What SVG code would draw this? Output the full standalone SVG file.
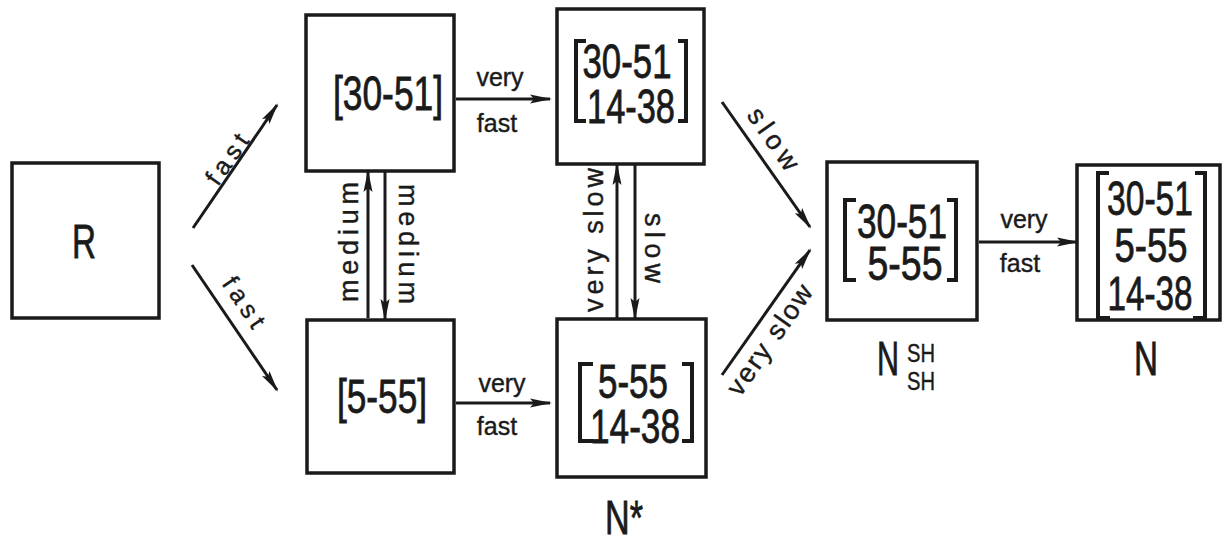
<svg xmlns="http://www.w3.org/2000/svg" width="1223" height="544" viewBox="0 0 1223 544">
<style>
.box{fill:none;stroke:#1a1a1a;stroke-width:3.5}
.brk{fill:none;stroke:#1a1a1a;stroke-width:4}
.big{font-family:"Liberation Sans",Arial,sans-serif;font-size:48px;fill:#1a1a1a;stroke:#1a1a1a;stroke-width:0.8;text-anchor:middle}
.sm{font-family:"Liberation Sans",Arial,sans-serif;font-size:25px;fill:#1a1a1a;stroke:#1a1a1a;stroke-width:0.4;text-anchor:middle}
.rot{font-size:27px}
.con line{stroke:#1a1a1a;stroke-width:3;marker-end:url(#ah)}
</style>
<defs>
<marker id="ah" markerUnits="userSpaceOnUse" markerWidth="22" markerHeight="12" refX="20" refY="6" orient="auto">
<path d="M0,1.5 L22,6 L0,10.5 L4,6 z" fill="#1a1a1a"/>
</marker>
</defs>
<rect width="1223" height="544" fill="#fff"/>

<g id="connectors" class="con">
<line x1="193" y1="228" x2="277" y2="105"/>
<line x1="192" y1="265" x2="277" y2="390"/>
<line x1="456" y1="99" x2="550" y2="99"/>
<line x1="456" y1="403" x2="550" y2="403"/>
<line x1="368" y1="318" x2="368" y2="172"/>
<line x1="385" y1="172" x2="385" y2="319"/>
<line x1="617" y1="318" x2="617" y2="165"/>
<line x1="635" y1="165" x2="635" y2="318"/>
<line x1="722" y1="102" x2="810" y2="227"/>
<line x1="722" y1="375" x2="810" y2="250"/>
<line x1="979" y1="242" x2="1077" y2="242"/>
</g>

<g id="connector-labels">
<text class="sm" transform="translate(234,164) rotate(-55)" textLength="56">fast</text>
<text class="sm" transform="translate(237,307) rotate(56)" textLength="56">fast</text>
<text class="sm" x="500" y="86">very</text>
<text class="sm" x="497" y="132">fast</text>
<text class="sm" x="502" y="392">very</text>
<text class="sm" x="497" y="435">fast</text>
<text class="sm rot" transform="translate(358,242) rotate(-90)" textLength="120">medium</text>
<text class="sm rot" transform="translate(399,244) rotate(90)" textLength="120">medium</text>
<text class="sm rot" transform="translate(603,240) rotate(-90)" textLength="144">very slow</text>
<text class="sm rot" transform="translate(645,248) rotate(90)" textLength="70">slow</text>
<text class="sm rot" transform="translate(766,144) rotate(55)" textLength="70">slow</text>
<text class="sm rot" transform="translate(777,345) rotate(-55)" textLength="129">very slow</text>
<text class="sm" x="1024" y="228">very</text>
<text class="sm" x="1020" y="272">fast</text>
</g>

<g id="node-R">
<rect class="box" x="12" y="163" width="147" height="155"/>
<text class="big" x="84" y="258" textLength="24" lengthAdjust="spacingAndGlyphs">R</text>
</g>

<g id="node-30-51">
<rect class="box" x="306" y="15" width="148" height="156"/>
<text class="big" x="388" y="110" textLength="110" lengthAdjust="spacingAndGlyphs">[30-51]</text>
</g>

<g id="node-5-55">
<rect class="box" x="307" y="320" width="147" height="153"/>
<text class="big" x="382" y="413" textLength="90" lengthAdjust="spacingAndGlyphs">[5-55]</text>
</g>

<g id="node-30-51-14-38">
<rect class="box" x="557" y="9" width="147" height="155"/>
<path class="brk" d="M586,41 H576 V121 H586"/>
<path class="brk" d="M678,41 H686 V121 H678"/>
<text class="big" x="627" y="78" textLength="89" lengthAdjust="spacingAndGlyphs">30-51</text>
<text class="big" x="631" y="123" textLength="88" lengthAdjust="spacingAndGlyphs">14-38</text>
</g>

<g id="node-5-55-14-38">
<rect class="box" x="557" y="319" width="149" height="158"/>
<path class="brk" d="M593,364 H580 V441 H593"/>
<path class="brk" d="M682,364 H692 V441 H682"/>
<text class="big" x="633" y="398" textLength="70" lengthAdjust="spacingAndGlyphs">5-55</text>
<text class="big" x="635" y="443" textLength="90" lengthAdjust="spacingAndGlyphs">14-38</text>
<text class="big" x="624" y="534" font-size="44" textLength="38" lengthAdjust="spacingAndGlyphs">N*</text>
</g>

<g id="node-NSH">
<rect class="box" x="827" y="162" width="150" height="158"/>
<path class="brk" d="M856,200 H845 V280 H856"/>
<path class="brk" d="M947,200 H956 V280 H947"/>
<text class="big" x="902" y="238" textLength="90" lengthAdjust="spacingAndGlyphs">30-51</text>
<text class="big" x="905" y="280" textLength="75" lengthAdjust="spacingAndGlyphs">5-55</text>
<text class="big" x="888" y="375" textLength="22" lengthAdjust="spacingAndGlyphs">N</text>
<text class="sm" x="921" y="362" textLength="28" lengthAdjust="spacingAndGlyphs">SH</text>
<text class="sm" x="921" y="390" textLength="28" lengthAdjust="spacingAndGlyphs">SH</text>
</g>

<g id="node-N">
<rect class="box" x="1077" y="165" width="143" height="155"/>
<path class="brk" d="M1109,173 H1098 V318 H1110"/>
<path class="brk" d="M1195,173 H1205 V318 H1193"/>
<text class="big" x="1150" y="215" textLength="86" lengthAdjust="spacingAndGlyphs">30-51</text>
<text class="big" x="1151" y="262" textLength="73" lengthAdjust="spacingAndGlyphs">5-55</text>
<text class="big" x="1150" y="310" textLength="85" lengthAdjust="spacingAndGlyphs">14-38</text>
<text class="big" x="1146" y="375" textLength="24" lengthAdjust="spacingAndGlyphs">N</text>
</g>
</svg>
